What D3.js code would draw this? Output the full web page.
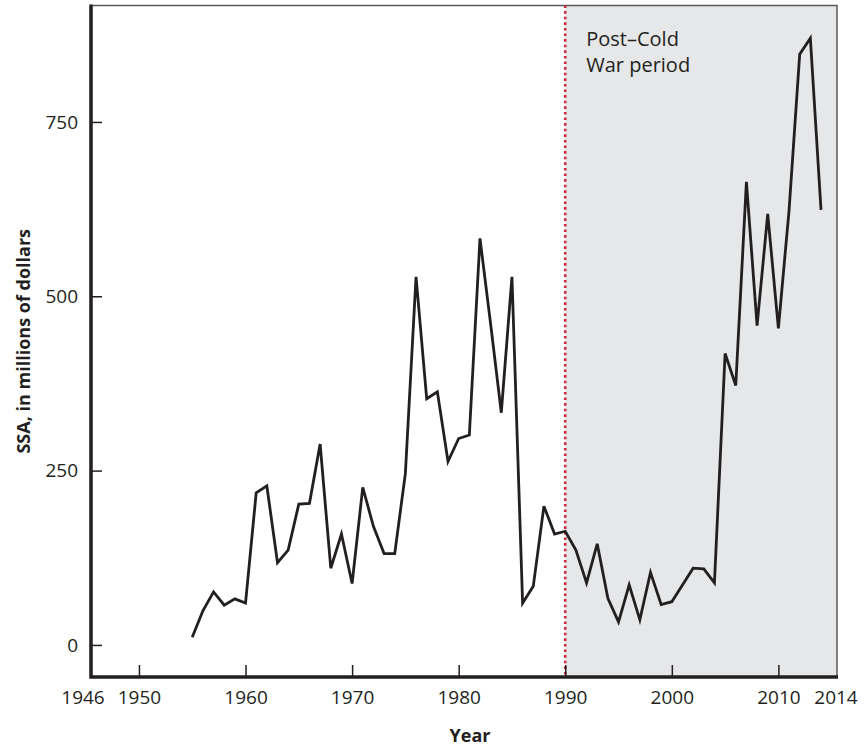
<!DOCTYPE html>
<html>
<head>
<meta charset="utf-8">
<script src="https://cdn.jsdelivr.net/npm/d3@7"></script>
<style>
  body { margin: 0; background: #fff; }
  svg text { font-family: "Open Sans", sans-serif; fill: #231f20; }
</style>
</head>
<body>
<div id="chart"></div>
<script>
// ===================== DATA =====================
const years = [1955, 1956, 1957, 1958, 1959, 1960, 1961, 1962, 1963, 1964,
  1965, 1966, 1967, 1968, 1969, 1970, 1971, 1972, 1973, 1974,
  1975, 1976, 1977, 1978, 1979, 1980, 1981, 1982, 1983, 1984,
  1985, 1986, 1987, 1988, 1989, 1990, 1991, 1992, 1993, 1994,
  1995, 1996, 1997, 1998, 1999, 2000, 2001, 2002, 2003, 2004,
  2005, 2006, 2007, 2008, 2009, 2010, 2011, 2012, 2013, 2014];
const ssa = [11, 49, 76, 57, 66, 60, 218, 228, 118, 136,
  202, 203, 288, 110, 159, 88, 226, 170, 131, 131,
  246, 528, 353, 363, 263, 296, 301, 583, 460, 333,
  528, 60, 84, 199, 159, 163, 136, 89, 145, 67,
  33, 86, 36, 104, 58, 62, 86, 110, 109, 89,
  418, 372, 664, 458, 618, 454, 623, 847, 870, 624];
const xTicks = [1950, 1960, 1970, 1980, 1990, 2000, 2010];
const edgeLabels = ["1946", "2014"];
const yTicks = [0, 250, 500, 750];
const postColdStart = 1990;
const noteLines = ["Post\u2013Cold", "War period"];

// ===================== CHART =====================
const width = 864, height = 747;
const plotL = 91, plotR = 837, plotT = 5.5, plotB = 677;

const svg = d3.select("#chart").append("svg")
  .attr("width", width)
  .attr("height", height);

const x = d3.scaleLinear().domain([1945.5, 2015.5]).range([plotL, plotR]);
const y = d3.scaleLinear().domain([-46, 917]).range([plotB, plotT]);

// Post-Cold War shading
svg.append("rect")
  .attr("x", x(postColdStart))
  .attr("y", plotT)
  .attr("width", plotR - x(postColdStart))
  .attr("height", plotB - plotT)
  .attr("fill", "#e6e7e8");

// top and right thin frame
svg.append("path")
  .attr("d", `M${plotL},${plotT}H${plotR}V${plotB}`)
  .attr("fill", "none")
  .attr("stroke", "#58595b")
  .attr("stroke-width", 1.5);

// red dotted line at 1990
svg.append("line")
  .attr("x1", x(postColdStart)).attr("x2", x(postColdStart))
  .attr("y1", plotT).attr("y2", plotB)
  .attr("stroke", "#d02a3a")
  .attr("stroke-width", 2.6)
  .attr("stroke-dasharray", "2.6,3");

// note
svg.append("text")
  .attr("x", x(postColdStart) + 21)
  .attr("y", 46)
  .attr("font-size", 20)
  .selectAll("tspan")
  .data(noteLines)
  .enter()
  .append("tspan")
  .attr("x", x(postColdStart) + 21)
  .attr("dy", (d, i) => i === 0 ? 0 : 26)
  .text(d => d);

// data line
const points = years.map((yr, i) => [yr, ssa[i]]);
svg.append("path")
  .datum(points)
  .attr("fill", "none")
  .attr("stroke", "#231f20")
  .attr("stroke-width", 2.8)
  .attr("stroke-linejoin", "miter")
  .attr("d", d3.line().x(d => x(d[0])).y(d => y(d[1])));

// axes
const xAxis = svg.append("g")
  .attr("transform", `translate(0,${plotB})`)
  .call(d3.axisBottom(x).tickValues(xTicks).tickFormat(d3.format("d"))
    .tickSize(-12).tickPadding(14).tickSizeOuter(0));
xAxis.select(".domain").remove();

const yAxis = svg.append("g")
  .attr("transform", `translate(${plotL},0)`)
  .call(d3.axisLeft(y).tickValues(yTicks)
    .tickSize(-11).tickPadding(13).tickSizeOuter(0));
yAxis.select(".domain").remove();

[xAxis, yAxis].forEach(g => {
  g.selectAll(".tick line").attr("stroke", "#231f20").attr("stroke-width", 1.5);
  g.selectAll(".tick text").attr("font-size", 19).attr("font-family", "Open Sans").attr("fill", "#231f20");
});

// edge labels 1946 / 2014
svg.selectAll(".edge")
  .data(edgeLabels)
  .enter()
  .append("text")
  .attr("class", "edge")
  .attr("x", (d, i) => i === 0 ? x.range()[0] - 8 : x.range()[1] - 1)
  .attr("y", plotB + 14)
  .attr("dy", "0.71em")
  .attr("text-anchor", "middle")
  .attr("font-size", 19)
  .text(d => d);

// thick left and bottom axis lines
svg.append("path")
  .attr("d", `M${plotL},${plotT - 1}V${plotB}H${plotR + 1}`)
  .attr("fill", "none")
  .attr("stroke", "#231f20")
  .attr("stroke-width", 3.5);

// axis titles
svg.append("text")
  .attr("x", 470)
  .attr("y", 742)
  .attr("text-anchor", "middle")
  .attr("font-size", 18)
  .attr("font-weight", "bold")
  .text("Year");

svg.append("text")
  .attr("transform", `translate(30,${(plotT + plotB) / 2}) rotate(-90)`)
  .attr("text-anchor", "middle")
  .attr("font-size", 18)
  .attr("font-weight", "bold")
  .text("SSA, in millions of dollars");
</script>
</body>
</html>
